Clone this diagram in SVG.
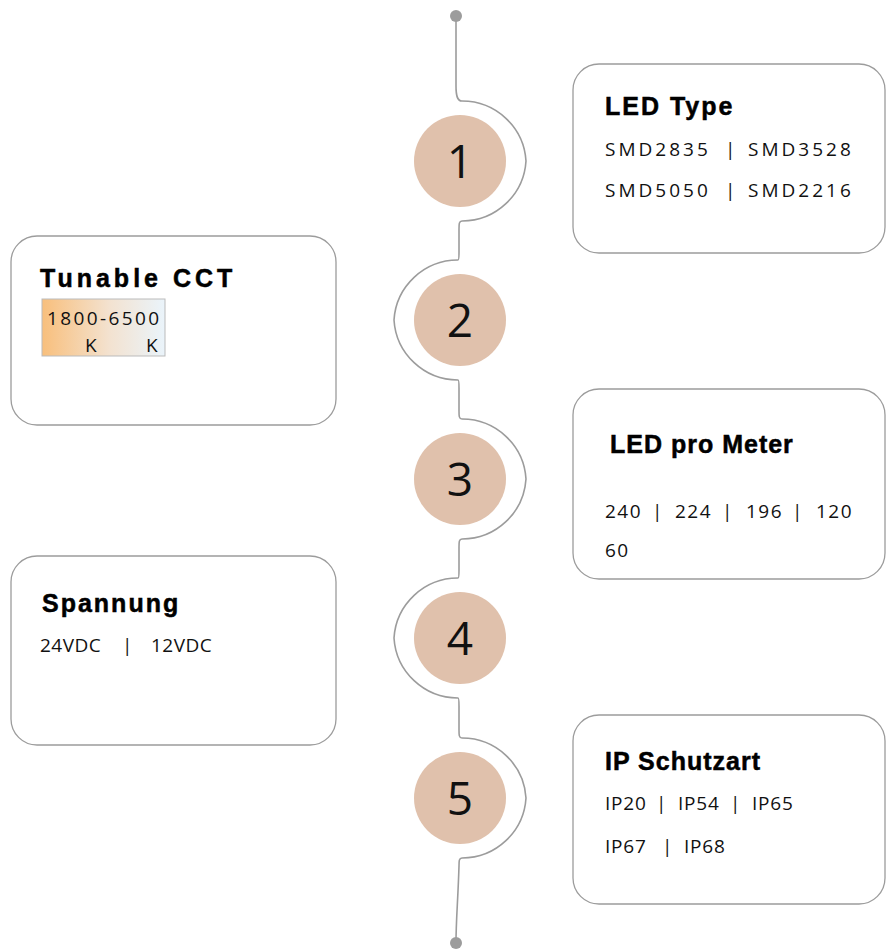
<svg xmlns="http://www.w3.org/2000/svg" width="886" height="949" viewBox="0 0 886 949">
<style>
.box{fill:#fff;stroke:#9c9c9c;stroke-width:1.3}
.num{fill:#e0c1ac}
.numt{font-family:"Open Sans","Noto Sans",sans-serif;font-size:46px;fill:#111;text-anchor:middle}
.title{font-family:"Liberation Sans",Arial,sans-serif;font-weight:bold;font-size:25px;fill:#000;stroke:#000;stroke-width:0.5}
.body{font-family:"Open Sans","Noto Sans",sans-serif;font-size:19px;fill:#111}
.line{fill:none;stroke:#9c9c9c;stroke-width:1.6}
</style>
<defs>
<linearGradient id="cct" x1="0" y1="0" x2="1" y2="0">
<stop offset="0" stop-color="#f8bf7c"/>
<stop offset="0.55" stop-color="#f3e2d0"/>
<stop offset="1" stop-color="#eaf4fb"/>
</linearGradient>
</defs>
<g id="connectors">
<path class="line" d="M456,16 L456,86 C456,95 457,101 462,101 A64 64 0 0 1 526 161 A64 64 0 0 1 462 221 C459,221 459,224 459,229 L459,252 C459,257 459,260 458,260 A64 64 0 0 0 394 320 A64 64 0 0 0 458 380 C459,380 459,383 459,388 L459,411 C459,416 459,419 462,419 A64 64 0 0 1 526 479 A64 64 0 0 1 462 539 C459,539 459,542 459,547 L459,570 C459,575 459,578 458,578 A64 64 0 0 0 394 638 A64 64 0 0 0 458 698 C459,698 459,701 459,706 L459,730 C459,735 459,738 462,738 A64 64 0 0 1 526 798 A64 64 0 0 1 462 858 C459,858 459,861 459,866 C458,900 456,920 456,943"/>
<circle cx="456" cy="16" r="6" fill="#9c9c9c"/>
<circle cx="456" cy="943" r="6" fill="#9c9c9c"/>
</g>
<g id="n1">
<circle class="num" cx="460" cy="161" r="46"/>
<text class="numt" x="460" y="178">1</text>
</g>
<g id="n2">
<circle class="num" cx="460" cy="320" r="46"/>
<text class="numt" x="460" y="337">2</text>
</g>
<g id="n3">
<circle class="num" cx="460" cy="479" r="46"/>
<text class="numt" x="460" y="496">3</text>
</g>
<g id="n4">
<circle class="num" cx="460" cy="638" r="46"/>
<text class="numt" x="460" y="655">4</text>
</g>
<g id="n5">
<circle class="num" cx="460" cy="798" r="46"/>
<text class="numt" x="460" y="815">5</text>
</g>
<g id="box-led-type">
<rect class="box" x="573" y="64" width="312" height="189" rx="26"/>
<text class="title" x="605" y="115" letter-spacing="2">LED Type</text>
<text class="body" y="156" letter-spacing="3"><tspan x="605">SMD2835</tspan><tspan x="725">|</tspan><tspan x="748">SMD3528</tspan></text>
<text class="body" y="197" letter-spacing="3"><tspan x="605">SMD5050</tspan><tspan x="725">|</tspan><tspan x="748">SMD2216</tspan></text>
</g>
<g id="box-cct">
<rect class="box" x="11" y="236" width="325" height="189" rx="26"/>
<text class="title" x="40" y="287" letter-spacing="4">Tunable CCT</text>
<rect x="42" y="299" width="123" height="57" fill="url(#cct)" stroke="#bbb" stroke-width="1"/>
<text class="body" x="47" y="325" font-size="22" letter-spacing="2.4">1800-6500</text>
<text class="body" x="85" y="352" font-size="22">K</text>
<text class="body" x="146" y="352" font-size="22">K</text>
</g>
<g id="box-led-meter">
<rect class="box" x="573" y="389" width="312" height="190" rx="26"/>
<text class="title" x="610" y="453" letter-spacing="1">LED pro Meter</text>
<text class="body" y="518" letter-spacing="1.5"><tspan x="605">240</tspan><tspan x="652">|</tspan><tspan x="675">224</tspan><tspan x="722">|</tspan><tspan x="746">196</tspan><tspan x="792">|</tspan><tspan x="816">120</tspan></text>
<text class="body" x="605" y="557" letter-spacing="1.5">60</text>
</g>
<g id="box-spannung">
<rect class="box" x="11" y="556" width="325" height="189" rx="26"/>
<text class="title" x="42" y="612" letter-spacing="2">Spannung</text>
<text class="body" y="652" letter-spacing="0.5"><tspan x="40">24VDC</tspan><tspan x="122">|</tspan><tspan x="151">12VDC</tspan></text>
</g>
<g id="box-ip">
<rect class="box" x="573" y="715" width="312" height="189" rx="26"/>
<text class="title" x="605" y="770" letter-spacing="1">IP Schutzart</text>
<text class="body" y="810" letter-spacing="0.8"><tspan x="605">IP20</tspan><tspan x="656">|</tspan><tspan x="678">IP54</tspan><tspan x="730">|</tspan><tspan x="752">IP65</tspan></text>
<text class="body" y="853" letter-spacing="0.8"><tspan x="605">IP67</tspan><tspan x="662">|</tspan><tspan x="684">IP68</tspan></text>
</g>
</svg>
